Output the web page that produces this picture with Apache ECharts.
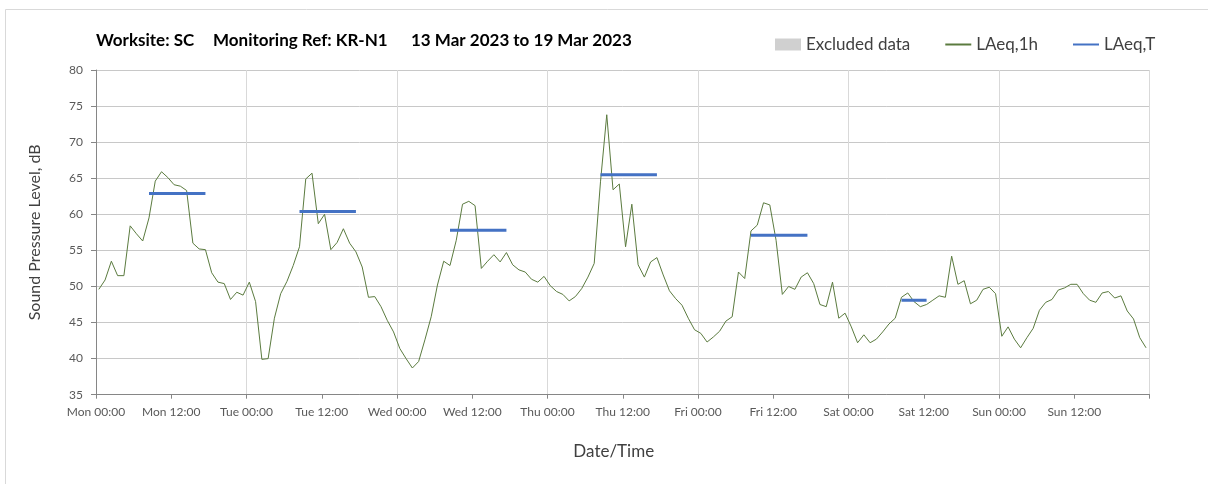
<!DOCTYPE html>
<html>
<head>
<meta charset="utf-8">
<script src="https://cdn.jsdelivr.net/npm/echarts@6/dist/echarts.min.js"></script>
<style>
  html, body { margin: 0; padding: 0; background: #ffffff; }
  #chart { width: 1208px; height: 484px; }
</style>
</head>
<body>
<div id="chart"></div>
<script>
// Week of hourly noise readings, Mon 13 Mar 2023 00:00 to Sun 19 Mar 2023 23:00
const dayNames = ['Mon', 'Tue', 'Wed', 'Thu', 'Fri', 'Sat', 'Sun'];
const tickTimes = ['00:00', '12:00'];

// LAeq,1h in dB, one value per hour starting Mon 00:00
const laeq1h = [
  49.6, 50.9, 53.5, 51.5, 51.5, 58.4, 57.3, 56.3, 59.5, 64.6, 65.9, 65.1,
  64.1, 63.9, 63.3, 56.0, 55.2, 55.1, 51.9, 50.6, 50.4, 48.2, 49.2, 48.8,
  50.6, 47.9, 39.9, 40.0, 45.6, 49.0, 50.7, 52.9, 55.5, 64.9, 65.7, 58.7,
  60.0, 55.1, 56.1, 58.0, 56.0, 54.8, 52.7, 48.5, 48.6, 47.2, 45.3, 43.7,
  41.4, 40.0, 38.7, 39.6, 42.6, 45.8, 50.2, 53.5, 52.9, 56.4, 61.4, 61.8,
  61.2, 52.5, 53.5, 54.4, 53.4, 54.7, 53.0, 52.3, 52.0, 51.0, 50.6, 51.4,
  50.1, 49.3, 48.9, 48.0, 48.6, 49.7, 51.3, 53.2, 64.5, 73.8, 63.4, 64.2,
  55.5, 61.4, 53.0, 51.3, 53.4, 54.0, 51.6, 49.4, 48.3, 47.4, 45.6, 44.0,
  43.5, 42.3, 43.0, 43.8, 45.2, 45.8, 52.0, 51.1, 57.7, 58.5, 61.6, 61.3,
  56.4, 48.9, 50.0, 49.6, 51.3, 51.9, 50.4, 47.5, 47.2, 50.6, 45.6, 46.3,
  44.4, 42.2, 43.3, 42.2, 42.7, 43.7, 44.8, 45.6, 48.5, 49.1, 47.9, 47.2,
  47.5, 48.1, 48.7, 48.5, 54.2, 50.3, 50.8, 47.6, 48.1, 49.6, 49.9, 49.0,
  43.1, 44.4, 42.7, 41.5, 42.9, 44.2, 46.7, 47.8, 48.2, 49.5, 49.8, 50.3,
  50.3, 49.0, 48.1, 47.8, 49.1, 49.3, 48.4, 48.7, 46.6, 45.5, 42.9, 41.5
];

// LAeq,T over each assessment period (hours from Mon 00:00)
const periodStartHour = [8, 32, 56, 80, 104, 128];
const periodEndHour   = [17, 41, 65, 89, 113, 132];
const laeqT           = [62.9, 60.4, 57.8, 65.5, 57.1, 48.1];

// Hourly readings sit a little after the top of their hour
const sampleShift = 0.45;

const hourlyPoints = laeq1h.map((v, i) => [i + sampleShift, v]);

const periodPoints = [];
laeqT.forEach((v, i) => {
  periodPoints.push([periodStartHour[i] + sampleShift, v]);
  periodPoints.push([periodEndHour[i] + sampleShift, v]);
  periodPoints.push([periodEndHour[i] + sampleShift + 0.5, null]);
});

const uiFont = 'Lato, "Open Sans", sans-serif';
const titleFont = 'bold 17px ' + uiFont;
const chart = echarts.init(document.getElementById('chart'), null, { renderer: 'canvas' });

chart.setOption({
  animation: false,
  backgroundColor: '#ffffff',
  textStyle: { fontFamily: uiFont },
  grid: { left: 96, top: 70, right: 58.5, bottom: 89.3, containLabel: false },
  legend: {
    left: 770,
    top: 31,
    itemGap: 34,
    itemWidth: 26,
    itemHeight: 12,
    textStyle: { fontFamily: uiFont, fontSize: 17, color: '#404040' },
    data: [
      { name: 'Excluded data', icon: 'rect' },
      { name: 'LAeq,1h', itemStyle: { opacity: 0 } },
      { name: 'LAeq,T', itemStyle: { opacity: 0 } }
    ]
  },
  graphic: [
    {
      type: 'rect', silent: true, z: -10,
      shape: { x: 5.5, y: 9.5, width: 1300, height: 520 },
      style: { fill: 'none', stroke: '#d9d9d9', lineWidth: 1 }
    },
    {
      type: 'text', left: 96, top: 32,
      style: { text: 'Worksite: SC', font: titleFont, fill: '#000000' }
    },
    {
      type: 'text', left: 213, top: 32,
      style: { text: 'Monitoring Ref: KR-N1', font: titleFont, fill: '#000000' }
    },
    {
      type: 'text', left: 411, top: 32,
      style: { text: '13 Mar 2023 to 19 Mar 2023', font: titleFont, fill: '#000000' }
    }
  ],
  xAxis: [
    {
      type: 'value',
      min: 0, max: 168, interval: 12,
      name: 'Date/Time',
      nameLocation: 'middle',
      nameGap: 48,
      nameTextStyle: { fontFamily: uiFont, fontSize: 17, color: '#404040', padding: [0, 18, 0, 0] },
      axisLine: { show: true, onZero: false, lineStyle: { color: '#868686', width: 1 } },
      axisTick: { show: true, length: 4, lineStyle: { color: '#868686' } },
      axisLabel: {
        margin: 11,
        fontFamily: uiFont, fontSize: 12, color: '#595959',
        formatter: (val) => {
          if (val >= 168) return '';
          const day = Math.floor(val / 24);
          const half = Math.round((val % 24) / 12);
          return dayNames[day] + ' ' + tickTimes[half];
        }
      },
      splitLine: { show: false }
    },
    {
      // Day boundaries as vertical gridlines
      type: 'value',
      min: 0, max: 168, interval: 24,
      position: 'bottom',
      axisLine: { show: false },
      axisTick: { show: false },
      axisLabel: { show: false },
      splitLine: { show: true, lineStyle: { color: '#d9d9d9', width: 1 } }
    }
  ],
  yAxis: {
    type: 'value',
    min: 35, max: 80, interval: 5,
    name: 'Sound Pressure Level, dB',
    nameLocation: 'middle',
    nameRotate: 90,
    nameGap: 53,
    nameTextStyle: { fontFamily: uiFont, fontSize: 16, color: '#404040' },
    axisLine: { show: true, lineStyle: { color: '#868686', width: 1 } },
    axisTick: { show: true, length: 5, lineStyle: { color: '#868686' } },
    axisLabel: { margin: 13, fontFamily: uiFont, fontSize: 12, color: '#595959' },
    splitLine: { show: true, lineStyle: { color: '#c8c8c8', width: 1 } }
  },
  series: [
    {
      name: 'Excluded data',
      type: 'bar',
      xAxisIndex: 0,
      itemStyle: { color: '#d0d0d0' },
      data: []
    },
    {
      name: 'LAeq,1h',
      type: 'line',
      xAxisIndex: 0,
      symbol: 'none',
      showSymbol: false,
      lineStyle: { color: '#5b7b3f', width: 1 },
      itemStyle: { color: '#5b7b3f' },
      data: hourlyPoints,
      z: 3
    },
    {
      name: 'LAeq,T',
      type: 'line',
      xAxisIndex: 0,
      symbol: 'none',
      showSymbol: false,
      connectNulls: false,
      lineStyle: { color: '#4472c4', width: 3 },
      itemStyle: { color: '#4472c4' },
      data: periodPoints,
      z: 4
    }
  ]
});
</script>
</body>
</html>
